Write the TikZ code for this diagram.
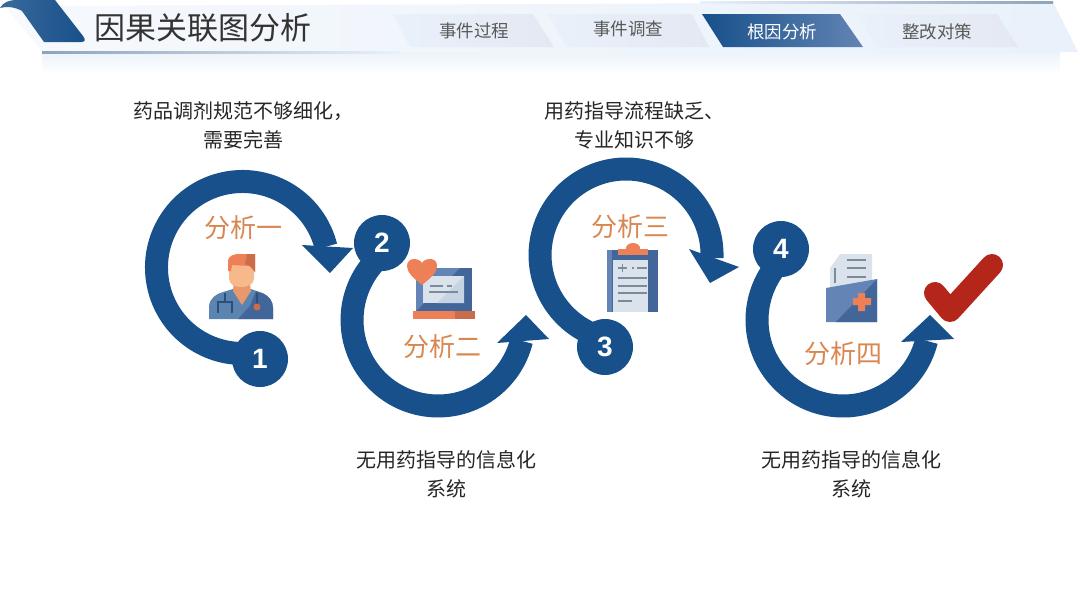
\documentclass[tikz,border=0pt]{standalone}
\usepackage{fontspec}
\usepackage{tikz}
\usetikzlibrary{shapes,positioning,calc}
\setmainfont{Noto Sans CJK SC}
\newfontfamily\numfont{Liberation Sans}
\definecolor{ringblue}{HTML}{17508A}
\definecolor{labelorange}{HTML}{D98650}
\definecolor{iconblue}{HTML}{42659A}
\definecolor{iconlight}{HTML}{6384B4}
\definecolor{scrubblue}{HTML}{5B84B0}
\definecolor{icondark}{HTML}{2E4E78}
\definecolor{iconorange}{HTML}{EE8058}
\definecolor{iconpaper}{HTML}{DAE3EC}
\definecolor{papershade}{HTML}{C6D3E2}
\definecolor{iconline}{HTML}{7C8B9C}
\definecolor{skintone}{HTML}{F7B88A}
\definecolor{necktone}{HTML}{E8986A}
\definecolor{checkred}{HTML}{B5261A}
\definecolor{bandblue}{HTML}{E9F1FA}
\definecolor{bandlight}{HTML}{F6F9FD}
\definecolor{tabgrey}{HTML}{E4E8F2}
\definecolor{edgeline}{HTML}{8FA3BA}

\begin{document}
\begin{tikzpicture}[x=1pt,y=-1pt,
	ringarc/.style={draw=ringblue,line width=23pt},
	ringtip/.style={fill=ringblue},
	numdot/.style={circle,fill=ringblue,text=white,minimum size=56pt,inner sep=0pt,font=\numfont\bfseries\fontsize{28}{28}\selectfont},
	notetext/.style={align=center,text=black!85,font=\fontsize{20}{29}\selectfont},
	parttext/.style={text=labelorange,font=\fontsize{26}{26}\selectfont},
	tabtext/.style={text=black!65,font=\fontsize{17.5}{18}\selectfont},
	tabbox/.style={left color=bandblue,right color=tabgrey},
	iconstroke/.style={draw=iconline,line width=1.2pt}]
\useasboundingbox (0,0) rectangle (1080,608);

\shade[top color=bandblue!85,bottom color=white] (42,52) rectangle (1060,74);
\shade[left color=bandlight,right color=bandblue] (5,6) -- (1053,2) -- (1078,52) -- (42,52) -- cycle;
\shade[left color=edgeline,right color=bandblue] (42,51.5) rectangle (400,53);
\shade[left color=bandblue,right color=edgeline] (700,1.5) rectangle (1053,3);
\shade[left color=ringblue!85,middle color=iconlight,right color=ringblue] (0,8) .. controls (3,2) and (10,0) .. (16,0) -- (55,0) -- (83,36) .. controls (86,40) and (85,42) .. (81,42) -- (44,42) -- (22,11) .. controls (15,7) and (7,6) .. (0,8) -- cycle;
\node [text=black!80,font=\fontsize{31}{31}\selectfont] (title) at (203,28) {因果关联图分析};

\shade[tabbox] (393,14) -- (533,14) -- (554,47) -- (410,47) -- cycle;
\shade[tabbox] (547,14) -- (692,14) -- (709,47) -- (567,47) -- cycle;
\shade[left color=ringblue,right color=iconlight] (702,14) -- (840,14) -- (863,47) -- (723,47) -- cycle;
\shade[tabbox] (858,14) -- (997,14) -- (1018,47) -- (877,47) -- cycle;
\node [tabtext] (tab1) at (474,31) {事件过程};
\node [tabtext] (tab2) at (628,29) {事件调查};
\node [tabtext,text=white] (tab3) at (782,32) {根因分析};
\node [tabtext] (tab4) at (937,32) {整改对策};

\node [notetext] (note1) at (243,125) {药品调剂规范不够细化，\\需要完善};
\node [notetext] (note2) at (446,474) {无用药指导的信息化\\系统};
\node [notetext] (note3) at (634,125) {用药指导流程缺乏、\\专业知识不够};
\node [notetext] (note4) at (851,474) {无用药指导的信息化\\系统};

\coordinate (a1) at (258.9,351.9);
\coordinate (a2) at (387.5,250.4);
\coordinate (a3) at (606.7,338.8);
\coordinate (a4) at (786.6,255.1);
\draw[ringarc] (a1) arc (79:346:86);
\draw[ringarc] (a2) arc (234:14:86);
\draw[ringarc] (a3) arc (103:362:86);
\draw[ringarc] (a4) arc (229:14:86);
\fill[ringtip] (302,245) -- (353,248) -- (330,273) -- cycle;
\fill[ringtip] (497,343) -- (526,315) -- (549,339) -- cycle;
\fill[ringtip] (689,249) -- (739,267) -- (710,283) -- cycle;
\fill[ringtip] (901,342) -- (930,315) -- (954,339) -- cycle;

\node [numdot] (n1) at (260,359) {1};
\node [numdot] (n2) at (382,243) {2};
\node [numdot] (n3) at (605,347) {3};
\node [numdot] (n4) at (781,249) {4};

\node [parttext] (part1) at (243,228) {分析一};
\node [parttext] (part2) at (442,347) {分析二};
\node [parttext] (part3) at (630,227) {分析三};
\node [parttext] (part4) at (843,354) {分析四};

\fill[scrubblue] (209,319) -- (209,306) .. controls (210,298) and (216,294) .. (223,292) -- (233,289) -- (251,289) -- (262,293) .. controls (269,296) and (273,301) .. (273,308) -- (273,319) -- cycle;
\fill[iconblue] (273,319) -- (273,308) .. controls (273,301) and (269,296) .. (262,293) -- (256,291) -- (250,306) -- (238,319) -- cycle;
\fill[necktone] (234,278) -- (249,278) -- (251,291) -- (242,305) -- (233,291) -- cycle;
\fill[skintone] (229,262) -- (254,262) -- (254,278) .. controls (254,284) and (249,287) .. (241,287) .. controls (234,287) and (229,284) .. (229,278) -- cycle;
\fill[iconorange] (228,271) -- (228,260) .. controls (229,256) and (234,254) .. (238,254) -- (255,254) -- (255,272) -- (250,266) -- (232,265) -- (231,271) -- cycle;
\fill[iconorange!85!black] (247,254) -- (255,254) -- (255,272) -- (250,266) -- (245,264) -- cycle;
\draw[icondark,line width=1.5pt] (225,293) -- (225,302) (218,313) -- (218,302) -- (232,302) -- (232,313) (257,293) -- (257,305);
\fill[iconorange!85!black] (257,307) circle (3.5);

\fill[iconblue] (416,268) rectangle (472,311);
\fill[iconlight] (416,268) -- (460,268) -- (416,311) -- cycle;
\fill[iconpaper] (423,276) rectangle (464,303);
\fill[papershade] (464,276) -- (464,303) -- (437,303) -- cycle;
\draw[iconline,line width=1.2pt] (430,286) -- (443,286) (447,286) -- (452,286) (429,292) -- (458,292);
\fill[iconorange] (413,311) rectangle (475,319);
\fill[iconorange!85!black] (455,311) rectangle (475,319);
\fill[iconorange] (422,285) .. controls (412,277) and (407,272) .. (407,266) .. controls (407,261) and (411,259) .. (414,259) .. controls (418,259) and (421,261) .. (422,263) .. controls (423,261) and (426,259) .. (430,259) .. controls (434,259) and (437,261) .. (437,266) .. controls (437,272) and (432,277) .. (422,285) -- cycle;

\fill[iconblue] (607,250) rectangle (658,312);
\fill[iconlight] (607,250) rectangle (612,312);
\fill[iconpaper] (613,260) rectangle (648,312);
\fill[iconorange] (618,249) rectangle (648,255);
\fill[iconorange] (633,248) ellipse (7 and 5);
\draw[iconstroke] (618,268) -- (627,268) (622.5,264) -- (622.5,272) (632,268) -- (634,268) (637,268) -- (647,268) (618,278) -- (647,278) (618,286) -- (647,286) (618,293) -- (647,293) (618,301) -- (632,301);

\fill[iconpaper] (830,268) -- (840,254) -- (872,254) -- (872,285) -- (830,292) -- cycle;
\draw[iconstroke] (847,260) -- (866,260) (847,268) -- (866,268) (847,277) -- (866,277) (835,268) -- (835,283);
\fill[iconlight] (826,288) -- (877,279) -- (877,322) -- (826,322) -- cycle;
\fill[iconblue] (877,279) -- (877,322) -- (836,322) -- cycle;
\fill[iconorange] (853,298) rectangle (871,305) (858,293) rectangle (865,311);

\draw[checkred,line width=22pt,line cap=round,line join=round] (935,293) -- (950,311) -- (992,265);
\end{tikzpicture}
\end{document}
